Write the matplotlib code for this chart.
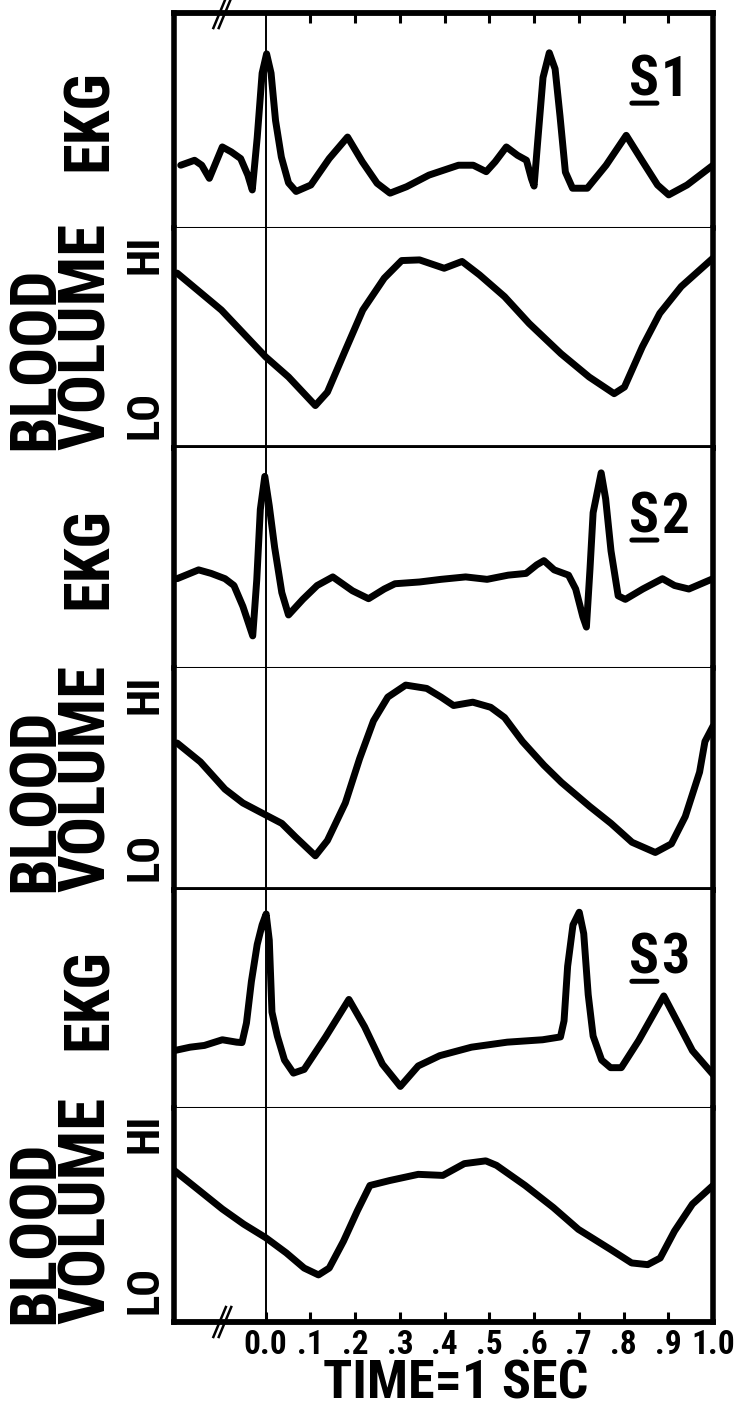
import matplotlib
matplotlib.use("Agg")
import matplotlib.pyplot as plt
import matplotlib.transforms as mtransforms

plt.rcParams['font.family'] = ['Roboto Condensed', 'DejaVu Sans']
plt.rcParams['font.stretch'] = 'condensed'
plt.rcParams['font.weight'] = 'bold'

# --- данные (время в секундах, амплитуда 0..1 внутри панели) ---
subjects = ['S1', 'S2', 'S3']
tick_vals = [0.0, 0.1, 0.2, 0.3, 0.4, 0.5, 0.6, 0.7, 0.8, 0.9, 1.0]
tick_labels = ['0.0', '.1', '.2', '.3', '.4', '.5', '.6', '.7', '.8', '.9', '1.0']
x_label = 'TIME=1 SEC'

ekg_s1_t = [-0.19, -0.159, -0.143, -0.126, -0.097, -0.077, -0.056, -0.040, -0.030, -0.019,
            -0.008, 0.002, 0.012, 0.022, 0.035, 0.051, 0.068, 0.101, 0.142, 0.183,
            0.216, 0.249, 0.278, 0.315, 0.365, 0.431, 0.464, 0.493, 0.513, 0.538,
            0.563, 0.583, 0.594, 0.600, 0.608, 0.620, 0.634, 0.647, 0.658, 0.670,
            0.686, 0.719, 0.761, 0.806, 0.843, 0.876, 0.901, 0.942, 1.0]
ekg_s1_v = [0.292, 0.315, 0.292, 0.231, 0.377, 0.354, 0.323, 0.246, 0.177, 0.42,
            0.72, 0.81, 0.72, 0.5, 0.33, 0.21, 0.17, 0.2, 0.323, 0.423,
            0.308, 0.208, 0.162, 0.192, 0.246, 0.292, 0.292, 0.262, 0.308, 0.377,
            0.338, 0.315, 0.23, 0.195, 0.40, 0.70, 0.815, 0.74, 0.52, 0.26,
            0.185, 0.185, 0.292, 0.431, 0.308, 0.2, 0.154, 0.2, 0.292]

bv_s1_t = [-0.198, -0.099, 0.0, 0.051, 0.111, 0.138, 0.178, 0.217, 0.265, 0.304,
           0.344, 0.399, 0.439, 0.478, 0.534, 0.589, 0.660, 0.723, 0.779, 0.802,
           0.842, 0.881, 0.929, 1.0]
bv_s1_v = [0.795, 0.627, 0.414, 0.323, 0.193, 0.254, 0.444, 0.627, 0.772, 0.852,
           0.855, 0.817, 0.848, 0.787, 0.688, 0.566, 0.429, 0.323, 0.247, 0.277,
           0.46, 0.612, 0.734, 0.863]

ekg_s2_t = [-0.198, -0.150, -0.122, -0.091, -0.071, -0.051, -0.029, -0.020, -0.012, -0.002,
            0.008, 0.020, 0.036, 0.051, 0.083, 0.115, 0.150, 0.194, 0.230, 0.265,
            0.289, 0.344, 0.392, 0.447, 0.495, 0.542, 0.582, 0.606, 0.622, 0.645,
            0.677, 0.693, 0.709, 0.717, 0.725, 0.732, 0.750, 0.760, 0.772, 0.788,
            0.804, 0.843, 0.887, 0.914, 0.946, 1.0]
ekg_s2_v = [0.406, 0.446, 0.43, 0.406, 0.375, 0.280, 0.146, 0.40, 0.721, 0.871,
            0.737, 0.548, 0.343, 0.241, 0.312, 0.375, 0.414, 0.351, 0.315, 0.359,
            0.383, 0.391, 0.403, 0.414, 0.403, 0.422, 0.430, 0.469, 0.488, 0.446,
            0.422, 0.359, 0.233, 0.186, 0.45, 0.706, 0.887, 0.769, 0.532, 0.328,
            0.312, 0.359, 0.406, 0.375, 0.359, 0.406]

bv_s2_t = [-0.198, -0.146, -0.091, -0.051, 0.0, 0.036, 0.067, 0.111, 0.138, 0.178,
           0.210, 0.241, 0.273, 0.313, 0.360, 0.392, 0.420, 0.463, 0.503, 0.534,
           0.574, 0.622, 0.661, 0.724, 0.772, 0.819, 0.871, 0.907, 0.938, 0.970,
           0.982, 1.0]
bv_s2_v = [0.662, 0.577, 0.454, 0.392, 0.338, 0.3, 0.238, 0.154, 0.223, 0.392,
           0.592, 0.762, 0.869, 0.923, 0.908, 0.869, 0.831, 0.846, 0.823, 0.777,
           0.669, 0.562, 0.485, 0.377, 0.3, 0.215, 0.169, 0.208, 0.331, 0.531,
           0.669, 0.738]

ekg_s3_t = [-0.205, -0.169, -0.137, -0.097, -0.065, -0.053, -0.043, -0.032, -0.019, -0.008,
            0.001, 0.008, 0.014, 0.026, 0.042, 0.062, 0.086, 0.134, 0.186, 0.221,
            0.261, 0.301, 0.341, 0.389, 0.460, 0.540, 0.619, 0.659, 0.667, 0.675,
            0.687, 0.701, 0.711, 0.721, 0.732, 0.751, 0.771, 0.795, 0.834, 0.890,
            0.922, 0.954, 1.0]
ekg_s3_v = [0.263, 0.279, 0.287, 0.313, 0.302, 0.30, 0.39, 0.58, 0.75, 0.84,
            0.89, 0.77, 0.44, 0.33, 0.22, 0.16, 0.177, 0.326, 0.498, 0.373,
            0.201, 0.099, 0.193, 0.240, 0.279, 0.302, 0.313, 0.326, 0.40, 0.65,
            0.84, 0.898, 0.80, 0.52, 0.33, 0.22, 0.185, 0.185, 0.310, 0.514,
            0.389, 0.263, 0.154]

bv_s3_t = [-0.205, -0.153, -0.097, -0.049, 0.0, 0.046, 0.086, 0.118, 0.142, 0.174,
           0.205, 0.233, 0.277, 0.341, 0.396, 0.444, 0.492, 0.516, 0.580, 0.643,
           0.699, 0.771, 0.818, 0.854, 0.882, 0.914, 0.954, 1.0]
bv_s3_v = [0.709, 0.622, 0.528, 0.457, 0.394, 0.323, 0.252, 0.220, 0.252, 0.378,
           0.520, 0.638, 0.661, 0.690, 0.685, 0.740, 0.753, 0.732, 0.638, 0.535,
           0.433, 0.339, 0.276, 0.268, 0.299, 0.425, 0.551, 0.638]

panels = [
    ('EKG', ekg_s1_t, ekg_s1_v),
    ('BV', bv_s1_t, bv_s1_v),
    ('EKG', ekg_s2_t, ekg_s2_v),
    ('BV', bv_s2_t, bv_s2_v),
    ('EKG', ekg_s3_t, ekg_s3_v),
    ('BV', bv_s3_t, bv_s3_v),
]

# --- фигура ---
W, H = 740, 1418
fig = plt.figure(figsize=(W / 100, H / 100), dpi=100)
gs = fig.add_gridspec(6, 1, left=174 / W, right=713 / W, top=1 - 13 / H, bottom=1 - 1322 / H,
                      hspace=0, height_ratios=[215, 220, 220, 222, 218, 214])

axes = []
for i, (kind, t, v) in enumerate(panels):
    ax = fig.add_subplot(gs[i])
    axes.append(ax)
    ax.set_xlim(-0.205, 1.0)
    ax.set_ylim(0, 1)
    ax.plot(t, v, color='black', lw=5.0, solid_joinstyle='round', solid_capstyle='round')
    ax.axvline(0, color='black', lw=1.4)
    ax.set_yticks([])

    for side in ('left', 'right'):
        ax.spines[side].set_linewidth(4.0)
    ax.spines['top'].set_visible(i == 0)
    ax.spines['top'].set_linewidth(4.2)
    ax.spines['bottom'].set_linewidth(2.2 if kind == 'EKG' else 4.2)

    if kind == 'EKG':
        ax.text(-0.157, 0.5, 'EKG', rotation=90, ha='center', va='center',
                fontsize=45, transform=ax.transAxes)
        s_txt = ax.text(0.845, 0.615, 'S', fontsize=40, ha='left', va='baseline',
                        transform=ax.transAxes)
        ax.annotate(subjects[i // 2][1:], xy=(1, 0), xycoords=s_txt, xytext=(1, 0),
                    textcoords='offset points', ha='left', va='bottom', fontsize=40)
        ax.annotate('', xy=(0.08, 0.07), xycoords=s_txt, xytext=(0.92, 0.07), textcoords=s_txt,
                    arrowprops=dict(arrowstyle='-', lw=3.6, color='black', shrinkA=0, shrinkB=0))
    else:
        ax.text(-0.208, -0.008, 'BLOOD\nVOLUME', rotation=90, ha='center', va='bottom',
                multialignment='left', linespacing=0.8, fontsize=47, transform=ax.transAxes)
        ax.text(-0.052, 0.88, 'HI', rotation=90, ha='center', va='center',
                fontsize=32, transform=ax.transAxes)
        ax.text(-0.052, 0.15, 'LO', rotation=90, ha='center', va='center',
                fontsize=32, transform=ax.transAxes)

    if i == 0:
        ax.xaxis.set_ticks_position('top')
        ax.set_xticks(tick_vals[1:-1])
        ax.tick_params(axis='x', direction='in', length=7, width=2.2, labeltop=False)
    elif i == 5:
        ax.set_xticks(tick_vals)
        ax.set_xticklabels(tick_labels)
        ax.tick_params(axis='x', direction='in', length=7, width=2.2, labelsize=24, pad=5)
    else:
        ax.set_xticks([])

# разрывы оси "//"
for ax, yb in ((axes[0], 1.0), (axes[5], 0.0)):
    tr = mtransforms.blended_transform_factory(ax.transData, ax.transAxes)
    for dx in (-0.006, 0.006):
        x0 = -0.097 + dx
        ax.plot([x0 - 0.014, x0 + 0.014], [yb - 0.07, yb + 0.07], color='black', lw=1.8,
                transform=tr, clip_on=False)

fig.text(456 / W, 1 - 1384 / H, x_label, ha='center', va='center', fontsize=39)

fig.savefig('out.png', dpi=100, facecolor='white')
